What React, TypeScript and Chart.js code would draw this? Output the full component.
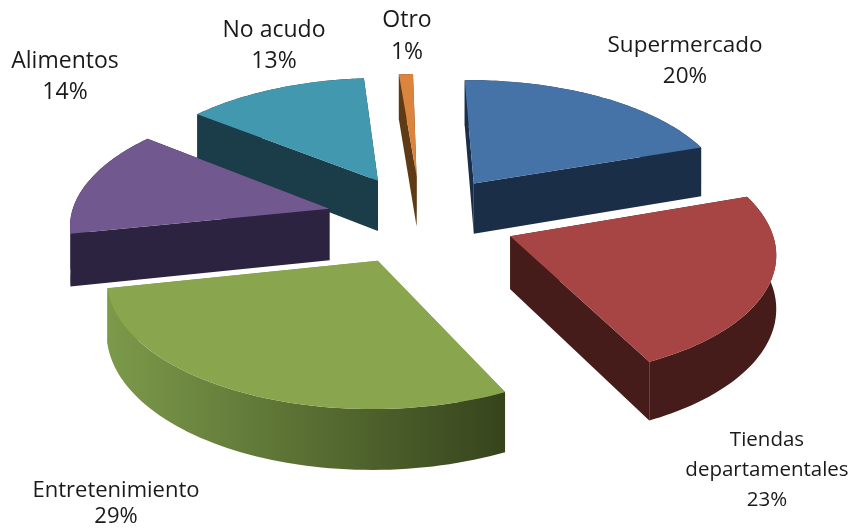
import React, { useEffect, useRef } from "react";
import { Chart, registerables } from "chart.js";

Chart.register(...registerables);

const categories = ["Supermercado", "Tiendas departamentales", "Entretenimiento", "Alimentos", "No acudo", "Otro"];
const shares = [20, 23, 29, 14, 13, 1];
const topColors = ["#4572A7", "#A64543", "#89A54E", "#71588F", "#4198AF", "#DB843D"];
const wallStart = ["#1B2E48", "#451C19", "#7C9A4A", "#2C2340", "#1B3C49", "#5E3A15"];
const wallEnd = ["#1B2E48", "#451C19", "#36441C", "#2C2340", "#1B3C49", "#5E3A15"];
const labelLines = [["Supermercado", "20%"], ["Tiendas", "departamentales", "23%"], ["Entretenimiento", "29%"], ["Alimentos", "14%"], ["No acudo", "13%"], ["Otro", "1%"]];
const labelCenters = [[685, 46], [767, 440], [116, 491], [65, 61], [274, 30], [407, 20]];
const labelFonts = [22.5, 20.5, 22, 23, 23, 23];
const labelLeading = [31, 30, 26, 31, 31, 32];

const CX = 421, CY = 219, RX = 259, RY = 122, DEPTH = 52, PERSPECTIVE = 0.11, STEPS = 64;

function project(x: number, y: number, z: number) {
  const w = 1 / (1 - PERSPECTIVE * y);
  return [CX + RX * x * w, CY + RY * y * w + z * w];
}

const pie3d = {
  id: "pie3d",
  beforeDatasetDraw(chart: any) {
    const ctx = chart.ctx;
    const arcs = chart.getDatasetMeta(0).data.map((arc: any, i: number) => {
      const mid = (arc.startAngle + arc.endAngle) / 2;
      const e = arc.options.offset / arc.outerRadius;
      return { i, a0: arc.startAngle, a1: arc.endAngle, ax: e * Math.cos(mid), ay: e * Math.sin(mid) };
    });
    arcs.sort((p: any, q: any) => p.ay - q.ay);
    for (const s of arcs) {
      const rim: number[][] = [];
      for (let k = 0; k <= STEPS; k++) {
        const a = s.a0 + ((s.a1 - s.a0) * k) / STEPS;
        rim.push([s.ax + Math.cos(a), s.ay + Math.sin(a)]);
      }
      const fillPoly = (pts: number[][], fill: any) => {
        ctx.beginPath();
        pts.forEach((p, n) => (n ? ctx.lineTo(p[0], p[1]) : ctx.moveTo(p[0], p[1])));
        ctx.closePath();
        ctx.fillStyle = fill;
        ctx.fill();
      };
      const top = rim.map((p) => project(p[0], p[1], 0));
      const bottom = rim.map((p) => project(p[0], p[1], DEPTH));
      const apexTop = project(s.ax, s.ay, 0);
      const apexBottom = project(s.ax, s.ay, DEPTH);
      const flat = wallStart[s.i];
      fillPoly([apexTop, top[0], bottom[0], apexBottom], flat);
      fillPoly([apexTop, top[STEPS], bottom[STEPS], apexBottom], flat);
      const xs = top.map((p) => p[0]);
      const g = ctx.createLinearGradient(Math.min(...xs), 0, Math.max(...xs), 0);
      g.addColorStop(0, wallStart[s.i]);
      g.addColorStop(1, wallEnd[s.i]);
      fillPoly([...top, ...bottom.slice().reverse()], g);
      fillPoly([apexTop, ...top], topColors[s.i]);
    }
    return false;
  },
  afterDatasetsDraw(chart: any) {
    const ctx = chart.ctx;
    ctx.textAlign = "center";
    ctx.textBaseline = "middle";
    ctx.fillStyle = "#1a1a1a";
    labelLines.forEach((lines, i) => {
      ctx.font = `${labelFonts[i]}px "Open Sans"`;
      lines.forEach((t, n) => ctx.fillText(t, labelCenters[i][0], labelCenters[i][1] + n * labelLeading[i]));
    });
  },
};

export default function App() {
  const ref = useRef<HTMLCanvasElement>(null);
  useEffect(() => {
    document.body.style.margin = "0";
    const chart = new Chart(ref.current as HTMLCanvasElement, {
      type: "pie",
      data: { labels: categories, datasets: [{ data: shares, backgroundColor: topColors, offset: 82, borderWidth: 0 }] },
      options: {
        responsive: false,
        animation: false,
        rotation: -1,
        plugins: { legend: { display: false }, tooltip: { enabled: false } },
      },
      plugins: [pie3d],
    } as any);
    return () => chart.destroy();
  }, []);
  return <canvas ref={ref} width={853} height={529} style={{ display: "block", background: "#fff" }} />;
}
